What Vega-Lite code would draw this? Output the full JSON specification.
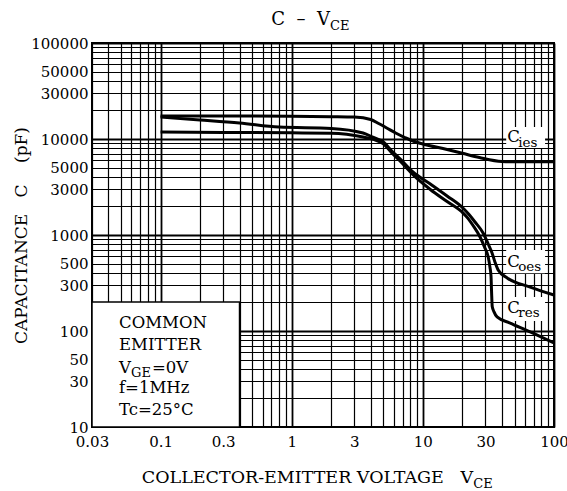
{
  "$schema": "https://vega.github.io/schema/vega-lite/v6.json",
  "width": 462,
  "height": 384,
  "autosize": {"type": "none"},
  "padding": {"left": 92, "top": 43, "right": 13, "bottom": 64},
  "background": "white",
  "config": {
    "view": {"stroke": "black", "strokeWidth": 2},
    "font": "DejaVu Serif",
    "text": {"font": "DejaVu Serif", "color": "black"}
  },
  "datasets": {
    "curves": [
      {"s": "Cies", "V": 0.1, "C": 17400}, {"s": "Cies", "V": 0.3, "C": 17400}, {"s": "Cies", "V": 1, "C": 17300},
      {"s": "Cies", "V": 2, "C": 17100}, {"s": "Cies", "V": 3, "C": 16900}, {"s": "Cies", "V": 4, "C": 15960},
      {"s": "Cies", "V": 4.6, "C": 14500}, {"s": "Cies", "V": 5.3, "C": 13030}, {"s": "Cies", "V": 6.2, "C": 11550},
      {"s": "Cies", "V": 7.3, "C": 10360}, {"s": "Cies", "V": 8.4, "C": 9530}, {"s": "Cies", "V": 10, "C": 8870},
      {"s": "Cies", "V": 15.3, "C": 7780}, {"s": "Cies", "V": 20, "C": 7100}, {"s": "Cies", "V": 27, "C": 6410},
      {"s": "Cies", "V": 40, "C": 5830}, {"s": "Cies", "V": 55, "C": 5780}, {"s": "Cies", "V": 100, "C": 5780},
      {"s": "Coes", "V": 0.1, "C": 16900}, {"s": "Coes", "V": 0.2, "C": 15800}, {"s": "Coes", "V": 0.4, "C": 14700},
      {"s": "Coes", "V": 0.8, "C": 13300}, {"s": "Coes", "V": 2, "C": 12900}, {"s": "Coes", "V": 3.5, "C": 11550},
      {"s": "Coes", "V": 4.2, "C": 10370}, {"s": "Coes", "V": 5, "C": 9300}, {"s": "Coes", "V": 5.8, "C": 7500},
      {"s": "Coes", "V": 6.7, "C": 6200}, {"s": "Coes", "V": 8.4, "C": 4550}, {"s": "Coes", "V": 11.4, "C": 3400},
      {"s": "Coes", "V": 15.3, "C": 2550}, {"s": "Coes", "V": 20.3, "C": 1900}, {"s": "Coes", "V": 22.5, "C": 1635},
      {"s": "Coes", "V": 25, "C": 1365}, {"s": "Coes", "V": 28.8, "C": 1050}, {"s": "Coes", "V": 31.5, "C": 806},
      {"s": "Coes", "V": 33.7, "C": 650}, {"s": "Coes", "V": 35.5, "C": 520}, {"s": "Coes", "V": 37.5, "C": 432},
      {"s": "Coes", "V": 44, "C": 357}, {"s": "Coes", "V": 65.8, "C": 287}, {"s": "Coes", "V": 100, "C": 237},
      {"s": "Cres", "V": 0.1, "C": 11800}, {"s": "Cres", "V": 0.3, "C": 11700}, {"s": "Cres", "V": 1, "C": 11600},
      {"s": "Cres", "V": 2, "C": 11500}, {"s": "Cres", "V": 3.5, "C": 10500}, {"s": "Cres", "V": 4.2, "C": 9900},
      {"s": "Cres", "V": 5, "C": 8900}, {"s": "Cres", "V": 5.8, "C": 7170}, {"s": "Cres", "V": 6.7, "C": 5900},
      {"s": "Cres", "V": 8.4, "C": 4250}, {"s": "Cres", "V": 11.4, "C": 2980}, {"s": "Cres", "V": 15.3, "C": 2230},
      {"s": "Cres", "V": 20.3, "C": 1690}, {"s": "Cres", "V": 22, "C": 1500}, {"s": "Cres", "V": 24, "C": 1270},
      {"s": "Cres", "V": 27.3, "C": 953}, {"s": "Cres", "V": 29.5, "C": 750}, {"s": "Cres", "V": 31.5, "C": 590},
      {"s": "Cres", "V": 32.5, "C": 460}, {"s": "Cres", "V": 33.1, "C": 370}, {"s": "Cres", "V": 33.4, "C": 260},
      {"s": "Cres", "V": 33.8, "C": 180}, {"s": "Cres", "V": 34.9, "C": 158}, {"s": "Cres", "V": 36.8, "C": 140},
      {"s": "Cres", "V": 46.3, "C": 121}, {"s": "Cres", "V": 65.8, "C": 98}, {"s": "Cres", "V": 100, "C": 75}
    ]
  },
  "layer": [
    {
      "data": {"values": [{"note": "conditions"}]},
      "mark": {"type": "rect", "fill": "white", "stroke": "black", "strokeWidth": 1.5},
      "encoding": {
        "x": {
          "datum": 0.03,
          "type": "quantitative",
          "scale": {"type": "log", "domain": [0.03, 100], "nice": false},
          "axis": {
            "values": [0.03,0.04,0.05,0.06,0.07,0.08,0.09,0.1,0.2,0.3,0.4,0.5,0.6,0.7,0.8,0.9,1,2,3,4,5,6,7,8,9,10,20,30,40,50,60,70,80,90,100],
            "format": "~r",
            "labelExpr": "indexof([0.03,0.1,0.3,1,3,10,30,100], datum.value) >= 0 ? datum.label : ''",
            "labelOverlap": false,
            "labelFlush": false,
            "labelFont": "DejaVu Serif",
            "labelFontSize": 15,
            "labelColor": "black",
            "labelPadding": 7,
            "tickSize": 0,
            "domain": false,
            "grid": true,
            "gridColor": "black",
            "gridOpacity": 1,
            "gridWidth": {"condition": {"test": "indexof([0.1,1,10,100], datum.value) >= 0", "value": 1.8}, "value": 1.2},
            "title": null
          }
        },
        "x2": {"datum": 0.4},
        "y": {
          "datum": 10,
          "type": "quantitative",
          "scale": {"type": "log", "domain": [10, 100000], "nice": false},
          "axis": {
            "values": [10,20,30,40,50,60,70,80,90,100,200,300,400,500,600,700,800,900,1000,2000,3000,4000,5000,6000,7000,8000,9000,10000,20000,30000,40000,50000,60000,70000,80000,90000,100000],
            "format": "~r",
            "labelExpr": "indexof([10,30,50,100,300,500,1000,3000,5000,10000,30000,50000,100000], datum.value) >= 0 ? datum.label : ''",
            "labelOverlap": false,
            "labelFlush": false,
            "labelFont": "DejaVu Serif",
            "labelFontSize": 15,
            "labelColor": "black",
            "labelPadding": 4,
            "tickSize": 0,
            "domain": false,
            "grid": true,
            "gridColor": "black",
            "gridOpacity": 1,
            "gridWidth": {"condition": {"test": "indexof([100,1000,10000,100000], datum.value) >= 0", "value": 1.8}, "value": 1.2},
            "title": "CAPACITANCE\u00a0\u00a0\u00a0C\u00a0\u00a0\u00a0\u00a0(pF)",
            "titleFont": "DejaVu Serif",
            "titleFontSize": 17,
            "titleFontWeight": "normal",
            "titleColor": "black",
            "titleAngle": 270,
            "titleAlign": "center",
            "titleBaseline": "middle",
            "titleX": -71,
            "titleY": 192
          }
        },
        "y2": {"datum": 200}
      }
    },
    {
      "data": {"values": [{"note": "label box"}]},
      "mark": {"type": "rect", "fill": "white"},
      "encoding": {"x": {"datum": 43.2}, "x2": {"datum": 85.5}, "y": {"datum": 13300}, "y2": {"datum": 8060}}
    },
    {
      "data": {"values": [{"note": "label box"}]},
      "mark": {"type": "rect", "fill": "white"},
      "encoding": {"x": {"datum": 43.2}, "x2": {"datum": 85.5}, "y": {"datum": 698}, "y2": {"datum": 400}}
    },
    {
      "data": {"values": [{"note": "label box"}]},
      "mark": {"type": "rect", "fill": "white"},
      "encoding": {"x": {"datum": 43.2}, "x2": {"datum": 85.5}, "y": {"datum": 226}, "y2": {"datum": 127}}
    },
    {
      "data": {"name": "curves"},
      "mark": {"type": "line", "color": "black", "strokeWidth": 3, "interpolate": "monotone"},
      "encoding": {
        "x": {"field": "V", "type": "quantitative"},
        "y": {"field": "C", "type": "quantitative"},
        "detail": {"field": "s"}
      }
    },
    {
      "data": {"values": [{"t": "C\u00a0\u00a0–\u00a0\u00a0V"}]},
      "mark": {"type": "text", "align": "right", "baseline": "alphabetic", "fontSize": 18},
      "encoding": {"x": {"datum": 1.96}, "y": {"datum": 154000}, "text": {"field": "t"}}
    },
    {
      "data": {"values": [{"t": "CE"}]},
      "mark": {"type": "text", "align": "left", "baseline": "alphabetic", "fontSize": 13},
      "encoding": {"x": {"datum": 1.96}, "y": {"datum": 136000}, "text": {"field": "t"}}
    },
    {
      "data": {"values": [{"t": "COLLECTOR-EMITTER VOLTAGE\u00a0\u00a0\u00a0V"}]},
      "mark": {"type": "text", "align": "right", "baseline": "alphabetic", "fontSize": 17.5},
      "encoding": {"x": {"datum": 24.2}, "y": {"datum": 2.61}, "text": {"field": "t"}}
    },
    {
      "data": {"values": [{"t": "CE"}]},
      "mark": {"type": "text", "align": "left", "baseline": "alphabetic", "fontSize": 13},
      "encoding": {"x": {"datum": 24.2}, "y": {"datum": 2.32}, "text": {"field": "t"}}
    },
    {
      "data": {"values": [{"t": "COMMON"}]},
      "mark": {"type": "text", "align": "left", "baseline": "alphabetic", "fontSize": 16.5},
      "encoding": {"x": {"datum": 0.0482}, "y": {"datum": 107}, "text": {"field": "t"}}
    },
    {
      "data": {"values": [{"t": "EMITTER"}]},
      "mark": {"type": "text", "align": "left", "baseline": "alphabetic", "fontSize": 16.5},
      "encoding": {"x": {"datum": 0.0482}, "y": {"datum": 63.4}, "text": {"field": "t"}}
    },
    {
      "data": {"values": [{"t": "V"}]},
      "mark": {"type": "text", "align": "left", "baseline": "alphabetic", "fontSize": 16.5},
      "encoding": {"x": {"datum": 0.0482}, "y": {"datum": 36.5}, "text": {"field": "t"}}
    },
    {
      "data": {"values": [{"t": "GE"}]},
      "mark": {"type": "text", "align": "left", "baseline": "alphabetic", "fontSize": 13, "dx": 12},
      "encoding": {"x": {"datum": 0.0482}, "y": {"datum": 33.2}, "text": {"field": "t"}}
    },
    {
      "data": {"values": [{"t": "=0V"}]},
      "mark": {"type": "text", "align": "left", "baseline": "alphabetic", "fontSize": 16.5, "dx": 33},
      "encoding": {"x": {"datum": 0.0482}, "y": {"datum": 36.5}, "text": {"field": "t"}}
    },
    {
      "data": {"values": [{"t": "f=1MHz"}]},
      "mark": {"type": "text", "align": "left", "baseline": "alphabetic", "fontSize": 16.5},
      "encoding": {"x": {"datum": 0.0482}, "y": {"datum": 22.6}, "text": {"field": "t"}}
    },
    {
      "data": {"values": [{"t": "Tc=25°C"}]},
      "mark": {"type": "text", "align": "left", "baseline": "alphabetic", "fontSize": 16.5},
      "encoding": {"x": {"datum": 0.0482}, "y": {"datum": 13.3}, "text": {"field": "t"}}
    },
    {
      "data": {"values": [{"t": "C"}]},
      "mark": {"type": "text", "align": "left", "baseline": "alphabetic", "fontSize": 16.5},
      "encoding": {"x": {"datum": 44}, "y": {"datum": 9310}, "text": {"field": "t"}}
    },
    {
      "data": {"values": [{"t": "ies"}]},
      "mark": {"type": "text", "align": "left", "baseline": "alphabetic", "fontSize": 13.5, "dx": 11},
      "encoding": {"x": {"datum": 44}, "y": {"datum": 8260}, "text": {"field": "t"}}
    },
    {
      "data": {"values": [{"t": "C"}]},
      "mark": {"type": "text", "align": "left", "baseline": "alphabetic", "fontSize": 16.5},
      "encoding": {"x": {"datum": 44}, "y": {"datum": 464}, "text": {"field": "t"}}
    },
    {
      "data": {"values": [{"t": "oes"}]},
      "mark": {"type": "text", "align": "left", "baseline": "alphabetic", "fontSize": 13.5, "dx": 11},
      "encoding": {"x": {"datum": 44}, "y": {"datum": 422}, "text": {"field": "t"}}
    },
    {
      "data": {"values": [{"t": "C"}]},
      "mark": {"type": "text", "align": "left", "baseline": "alphabetic", "fontSize": 16.5},
      "encoding": {"x": {"datum": 44}, "y": {"datum": 154}, "text": {"field": "t"}}
    },
    {
      "data": {"values": [{"t": "res"}]},
      "mark": {"type": "text", "align": "left", "baseline": "alphabetic", "fontSize": 13.5, "dx": 11},
      "encoding": {"x": {"datum": 44}, "y": {"datum": 140}, "text": {"field": "t"}}
    }
  ]
}
